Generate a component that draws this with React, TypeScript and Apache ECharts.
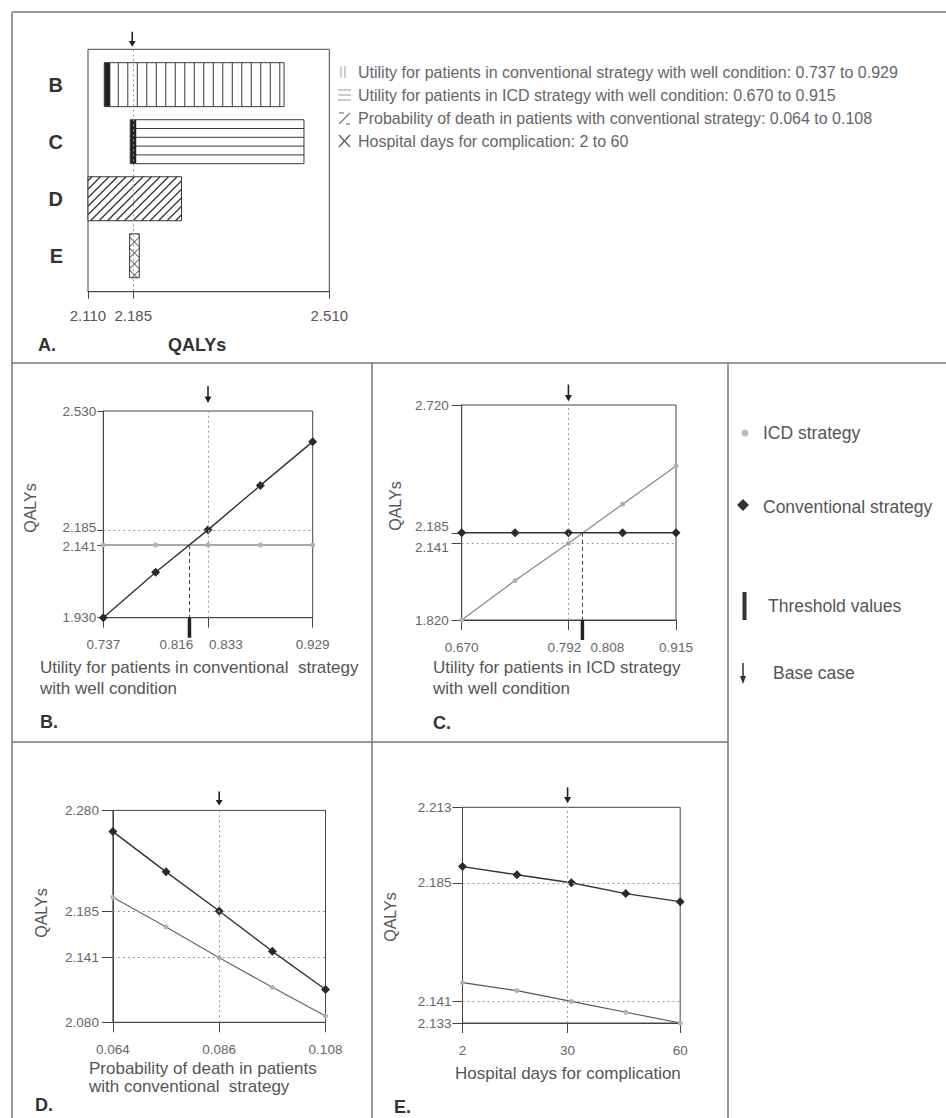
import React, { useEffect, useRef } from "react";
import * as echarts from "echarts";

const FONT = "'Liberation Sans', Arial, Helvetica, sans-serif";

// ---------- Panel A : one-way sensitivity (tornado) ----------
const tornadoCategories = ["B", "C", "D", "E"];
const tornadoLow = [2.137, 2.18, 2.11, 2.179];
const tornadoHigh = [2.435, 2.468, 2.265, 2.195];
const tornadoPattern = ["vertical", "horizontal", "diagonal", "cross"];
const tornadoThresholdEdge = [true, true, false, false];
const tornadoTicks = [2.11, 2.185, 2.51];
const tornadoBase = 2.185;
const tornadoLegend = [
  "Utility for patients in conventional strategy with well condition: 0.737 to 0.929",
  "Utility for patients in ICD strategy with well condition: 0.670 to 0.915",
  "Probability of death in patients with conventional strategy: 0.064 to 0.108",
  "Hospital days for complication: 2 to 60",
];

// ---------- Panel B ----------
const bUtility = [0.737, 0.785, 0.833, 0.881, 0.929];
const bConventional = [1.93, 2.062, 2.185, 2.314, 2.441];
const bICD = [2.141, 2.141, 2.141, 2.141, 2.141];
const bXTicks = [0.737, 0.816, 0.833, 0.929];
const bYTicks = [1.93, 2.141, 2.185, 2.53];
const bBase = 0.833;
const bThreshold = 0.816;
const bThresholdQaly = 2.141;
const bRefLines = [2.185];

// ---------- Panel C ----------
const cUtility = [0.67, 0.731, 0.792, 0.854, 0.915];
const cConventional = [2.185, 2.185, 2.185, 2.185, 2.185];
const cICD = [1.82, 1.985, 2.141, 2.305, 2.465];
const cXTicks = [0.67, 0.792, 0.808, 0.915];
const cYTicks = [1.82, 2.141, 2.185, 2.72];
const cBase = 0.792;
const cThreshold = 0.808;
const cThresholdQaly = 2.185;
const cRefLines = [2.141];

// ---------- Panel D ----------
const dProbability = [0.064, 0.075, 0.086, 0.097, 0.108];
const dConventional = [2.26, 2.222, 2.185, 2.147, 2.111];
const dICD = [2.198, 2.17, 2.141, 2.113, 2.086];
const dXTicks = [0.064, 0.086, 0.108];
const dYTicks = [2.08, 2.141, 2.185, 2.28];
const dBase = 0.086;
const dRefLines = [2.185, 2.141];

// ---------- Panel E ----------
const eDays = [2, 16.5, 31, 45.5, 60];
const eConventional = [2.191, 2.188, 2.185, 2.181, 2.178];
const eICD = [2.148, 2.145, 2.141, 2.137, 2.133];
const eXTicks = [2, 30, 60];
const eYTicks = [2.133, 2.141, 2.185, 2.213];
const eBase = 30;
const eRefLines = [2.185, 2.141];

const ARROW = "path://M3.1,0 L4.9,0 L4.9,11 L8,11 L4,18 L0,11 L3.1,11 Z";

type PanelCfg = {
  grid: any;
  x: number[];
  conv: number[];
  icd: number[];
  xTicks: number[];
  yTicks: number[];
  xDigits: number;
  base: number;
  refs: number[];
  thr?: number;
  thrFrom?: number;
  yTickLen: number;
  yMargin: number;
  xShift: Record<string, number>;
  yShift: Record<string, number>;
  arrowSize: number[];
  arrowOff: number;
  icdLine: string;
};

const panels: PanelCfg[] = [
  {
    grid: { left: 103.3, top: 411, width: 209.4, height: 206.7 },
    x: bUtility, conv: bConventional, icd: bICD, xTicks: bXTicks, yTicks: bYTicks, xDigits: 3,
    base: bBase, refs: bRefLines, thr: bThreshold, thrFrom: bThresholdQaly,
    yTickLen: 6, yMargin: 7, xShift: { "0.816": -13, "0.833": 18 }, yShift: { "2.185": -2, "2.141": 1 },
    arrowSize: [7, 17], arrowOff: -16.5, icdLine: "#555",
  },
  {
    grid: { left: 461.7, top: 405, width: 214.3, height: 215 },
    x: cUtility, conv: cConventional, icd: cICD, xTicks: cXTicks, yTicks: cYTicks, xDigits: 3,
    base: cBase, refs: cRefLines, thr: cThreshold, thrFrom: cThresholdQaly,
    yTickLen: 10, yMargin: 13, xShift: { "0.792": -4, "0.808": 25 }, yShift: { "2.185": -6, "2.141": 4 },
    arrowSize: [7, 17], arrowOff: -12, icdLine: "#888",
  },
  {
    grid: { left: 112.9, top: 810.4, width: 212.6, height: 211.9 },
    x: dProbability, conv: dConventional, icd: dICD, xTicks: dXTicks, yTicks: dYTicks, xDigits: 3,
    base: dBase, refs: dRefLines,
    yTickLen: 11, yMargin: 14, xShift: {}, yShift: {},
    arrowSize: [7, 14], arrowOff: -12, icdLine: "#666",
  },
  {
    grid: { left: 462.5, top: 807.3, width: 217.7, height: 215.7 },
    x: eDays, conv: eConventional, icd: eICD, xTicks: eXTicks, yTicks: eYTicks, xDigits: 0,
    base: eBase, refs: eRefLines,
    yTickLen: 10, yMargin: 11, xShift: {}, yShift: {},
    arrowSize: [7, 16], arrowOff: -12, icdLine: "#555",
  },
];

const DOTTED = { color: "#999", type: [2, 3] as any, width: 1 };
const DASHED = { color: "#444", type: [4, 3] as any, width: 1 };

function diagSeg(x0: number, y0: number, x1: number, y1: number, c: number, dir: number) {
  if (dir === 1) {
    const xa = Math.max(x0, c - y1);
    const xb = Math.min(x1, c - y0);
    if (xa >= xb) return null;
    return { x1: xa, y1: c - xa, x2: xb, y2: c - xb };
  }
  const xa = Math.max(x0, y0 - c);
  const xb = Math.min(x1, y1 - c);
  if (xa >= xb) return null;
  return { x1: xa, y1: xa + c, x2: xb, y2: xb + c };
}

function shiftedLabels(shift: Record<string, number>, horizontal: boolean) {
  const rich: any = {};
  const keyOf: Record<string, string> = {};
  Object.keys(shift).forEach((key, j) => {
    const s = shift[key];
    const name = "s" + j;
    keyOf[key] = name;
    let padding;
    if (horizontal) padding = s > 0 ? [0, 0, 0, 2 * s] : [0, -2 * s, 0, 0];
    else padding = s > 0 ? [2 * s, 0, 0, 0] : [0, 0, -2 * s, 0];
    rich[name] = { fontSize: 13.5, color: "#666", fontFamily: FONT, padding };
  });
  return { rich, keyOf };
}

function buildOption() {
  const grids: any[] = [
    { left: 88, top: 49.3, width: 241.3, height: 242.4, show: true, borderColor: "#444", borderWidth: 1 },
  ];
  const xAxes: any[] = [
    {
      type: "value", gridIndex: 0, min: 2.11, max: 2.51,
      axisLine: { show: true, onZero: false, lineStyle: { color: "#444" } },
      axisTick: { show: true, customValues: tornadoTicks, length: 7, lineStyle: { color: "#444" } },
      axisLabel: { customValues: tornadoTicks, formatter: (v: number) => v.toFixed(3), margin: 16, color: "#555", fontSize: 15, fontFamily: FONT },
      splitLine: { show: false },
    },
  ];
  const yAxes: any[] = [
    {
      type: "value", gridIndex: 0, min: -0.62, max: 3.63, inverse: true,
      axisLine: { show: false, onZero: false }, axisTick: { show: false }, splitLine: { show: false },
      axisLabel: {
        customValues: [0, 1, 2, 3],
        formatter: (v: number) => tornadoCategories[Math.round(v)],
        margin: 25, color: "#333", fontSize: 20, fontWeight: "bold", fontFamily: FONT, padding: [8, 0, 0, 0],
      },
    },
  ];
  const series: any[] = [
    {
      type: "custom", xAxisIndex: 0, yAxisIndex: 0, silent: true,
      data: tornadoCategories.map((_, i) => [i, tornadoLow[i], tornadoHigh[i]]),
      encode: { x: [1, 2], y: 0 },
      renderItem: (params: any, api: any) => {
        const i = params.dataIndex;
        const idx = api.value(0);
        const a = api.coord([api.value(1), idx]);
        const b = api.coord([api.value(2), idx]);
        const h = api.size([0, 0.771])[1];
        const x0 = a[0], x1 = b[0], y0 = a[1] - h / 2, y1 = a[1] + h / 2;
        const ls = { stroke: "#3a3a3a", lineWidth: 1 };
        const ch: any[] = [{ type: "rect", shape: { x: x0, y: y0, width: x1 - x0, height: h }, style: { fill: "#fff" } }];
        const pat = tornadoPattern[i];
        if (pat === "vertical") {
          for (let x = x0 + 14; x < x1 - 3; x += 9.5) ch.push({ type: "line", shape: { x1: x, y1: y0, x2: x, y2: y1 }, style: ls });
        } else if (pat === "horizontal") {
          for (let k = 1; k < 5; k++) {
            const y = y0 + (h * k) / 5;
            ch.push({ type: "line", shape: { x1: x0, y1: y, x2: x1, y2: y }, style: ls });
          }
        } else if (pat === "diagonal") {
          for (let c = x0 + y0 + 4; c < x1 + y1; c += 8.5) {
            const s = diagSeg(x0, y0, x1, y1, c, 1);
            if (s) ch.push({ type: "line", shape: s, style: { stroke: "#333", lineWidth: 1.2 } });
          }
        } else {
          for (let c = x0 + y0 + 2; c < x1 + y1; c += 11) {
            const s = diagSeg(x0, y0, x1, y1, c, 1);
            if (s) ch.push({ type: "line", shape: s, style: ls });
          }
          for (let c = y0 - x1 + 2; c < y1 - x0; c += 11) {
            const s = diagSeg(x0, y0, x1, y1, c, -1);
            if (s) ch.push({ type: "line", shape: s, style: ls });
          }
        }
        if (tornadoThresholdEdge[i]) ch.push({ type: "rect", shape: { x: x0, y: y0, width: 6, height: h }, style: { fill: "#222" } });
        ch.push({ type: "rect", shape: { x: x0, y: y0, width: x1 - x0, height: h }, style: { fill: "none", stroke: "#3a3a3a", lineWidth: 1 } });
        return { type: "group", children: ch };
      },
    },
    {
      type: "scatter", xAxisIndex: 0, yAxisIndex: 0, data: [], silent: true,
      markLine: {
        silent: true, symbol: ["none", "none"], label: { show: false }, precision: 4,
        data: [{ xAxis: tornadoBase, lineStyle: DOTTED }],
      },
      markPoint: {
        silent: true, label: { show: false },
        data: [{ coord: [tornadoBase, -0.62], symbol: ARROW, symbolSize: [7, 15], symbolOffset: [-1, -10], itemStyle: { color: "#222" } }],
      },
    },
  ];

  panels.forEach((p, k) => {
    const gi = k + 1;
    grids.push({ ...p.grid, show: true, borderColor: "#444", borderWidth: 1 });
    const xMin = p.xTicks[0], xMax = p.xTicks[p.xTicks.length - 1];
    const yMin = p.yTicks[0], yMax = p.yTicks[p.yTicks.length - 1];
    const xs = shiftedLabels(p.xShift, true);
    const ys = shiftedLabels(p.yShift, false);
    xAxes.push({
      type: "value", gridIndex: gi, min: xMin, max: xMax,
      axisLine: { show: true, onZero: false, lineStyle: { color: "#444" } },
      axisTick: { show: true, customValues: p.xTicks, length: 10, lineStyle: { color: "#444" } },
      axisLabel: {
        customValues: p.xTicks, margin: 20, color: "#666", fontSize: 13.5, fontFamily: FONT, rich: xs.rich,
        formatter: (v: number) => {
          const t = v.toFixed(p.xDigits);
          return xs.keyOf[t] ? `{${xs.keyOf[t]}|${t}}` : t;
        },
      },
      splitLine: { show: false },
    });
    yAxes.push({
      type: "value", gridIndex: gi, min: yMin, max: yMax,
      axisLine: { show: true, onZero: false, lineStyle: { color: "#444" } },
      axisTick: { show: true, customValues: p.yTicks, length: p.yTickLen, lineStyle: { color: "#444" } },
      axisLabel: {
        customValues: p.yTicks, margin: p.yMargin, color: "#666", fontSize: 13.5, fontFamily: FONT, rich: ys.rich,
        formatter: (v: number) => {
          const t = v.toFixed(3);
          return ys.keyOf[t] ? `{${ys.keyOf[t]}|${t}}` : t;
        },
      },
      splitLine: { show: false },
    });
    const mlData: any[] = p.refs.map((v) => ({ yAxis: v, lineStyle: DOTTED }));
    mlData.push({ xAxis: p.base, lineStyle: DOTTED });
    const mpData: any[] = [
      { coord: [p.base, yMax], symbol: ARROW, symbolSize: p.arrowSize, symbolOffset: [0, p.arrowOff], itemStyle: { color: "#222" } },
    ];
    if (p.thr !== undefined) {
      mlData.push([{ coord: [p.thr, p.thrFrom], lineStyle: DASHED }, { coord: [p.thr, yMin] }]);
      mpData.push({ coord: [p.thr, yMin], symbol: "rect", symbolSize: [3.5, 20], symbolOffset: [0, 10], itemStyle: { color: "#222" } });
    }
    series.push({
      type: "line", name: "ICD strategy", xAxisIndex: gi, yAxisIndex: gi, z: 3,
      data: p.x.map((x, i) => [x, p.icd[i]]),
      symbol: "circle", symbolSize: 5,
      itemStyle: { color: "#b0b0b0", borderWidth: 0 },
      lineStyle: { color: p.icdLine, width: 1.2 },
    });
    series.push({
      type: "line", name: "Conventional strategy", xAxisIndex: gi, yAxisIndex: gi, z: 4,
      data: p.x.map((x, i) => [x, p.conv[i]]),
      symbol: "diamond", symbolSize: 9,
      itemStyle: { color: "#2a2a2a", borderWidth: 0 },
      lineStyle: { color: "#333", width: 1.4 },
      markLine: { silent: true, symbol: ["none", "none"], label: { show: false }, precision: 4, data: mlData },
      markPoint: { silent: true, label: { show: false }, data: mpData },
    });
  });

  const line = (x1: number, y1: number, x2: number, y2: number, stroke = "#777", w = 1.5) => ({
    type: "line", silent: true, shape: { x1, y1, x2, y2 }, style: { stroke, lineWidth: w },
  });
  const text = (x: number, y: number, t: string, o: any = {}) => ({
    type: "text", silent: true, x, y, rotation: o.rot || 0,
    style: {
      text: t, fill: o.color || "#555", fontSize: o.size || 14, fontFamily: FONT,
      fontWeight: o.weight || "normal", align: o.align || "left", verticalAlign: "middle",
    },
  });

  const legendY = [72, 95, 118, 141];
  const graphic: any[] = [
    line(12, 12, 946, 12),
    line(12, 12, 12, 1118),
    line(12, 363, 946, 363),
    line(372, 363, 372, 1118),
    line(728, 363, 728, 1118),
    line(12, 742, 728, 742),
    text(38, 345, "A.", { size: 18, weight: "bold", color: "#333" }),
    text(168, 345, "QALYs", { size: 18, weight: "bold", color: "#333" }),
    text(40, 722, "B.", { size: 18, weight: "bold", color: "#333" }),
    text(433, 723, "C.", { size: 18, weight: "bold", color: "#333" }),
    text(35, 1105, "D.", { size: 18, weight: "bold", color: "#333" }),
    text(394, 1107, "E.", { size: 18, weight: "bold", color: "#333" }),
    text(30, 508, "QALYs", { size: 16, rot: Math.PI / 2, align: "center" }),
    text(395, 506, "QALYs", { size: 16, rot: Math.PI / 2, align: "center" }),
    text(41, 913, "QALYs", { size: 16, rot: Math.PI / 2, align: "center" }),
    text(390, 917, "QALYs", { size: 16, rot: Math.PI / 2, align: "center" }),
    text(40, 667, "Utility for patients in conventional  strategy", { size: 17 }),
    text(40, 688, "with well condition", { size: 17 }),
    text(433, 667, "Utility for patients in ICD strategy", { size: 17 }),
    text(433, 688, "with well condition", { size: 17 }),
    text(89, 1068, "Probability of death in patients", { size: 17 }),
    text(89, 1086, "with conventional  strategy", { size: 17 }),
    text(455, 1073, "Hospital days for complication", { size: 17 }),
    // Panel A legend
    ...tornadoLegend.map((t, i) => text(358, legendY[i], t, { size: 16, color: "#666" })),
    line(341, legendY[0] - 6, 341, legendY[0] + 6, "#999", 1),
    line(345, legendY[0] - 6, 345, legendY[0] + 6, "#999", 1),
    line(338, legendY[1] - 5, 351, legendY[1] - 5, "#999", 1),
    line(338, legendY[1], 351, legendY[1], "#999", 1),
    line(338, legendY[1] + 5, 351, legendY[1] + 5, "#999", 1),
    line(339, legendY[2] - 5, 344, legendY[2] - 5, "#777", 1.2),
    line(339, legendY[2] + 6, 350, legendY[2] - 5, "#777", 1.2),
    line(346, legendY[2] + 6, 350, legendY[2] + 6, "#777", 1.2),
    line(339, legendY[3] - 6, 350, legendY[3] + 6, "#555", 1.2),
    line(350, legendY[3] - 6, 339, legendY[3] + 6, "#555", 1.2),
    // Right legend
    { type: "circle", silent: true, shape: { cx: 745, cy: 433, r: 3.5 }, style: { fill: "#bbb" } },
    text(763, 433, "ICD strategy", { size: 17.5 }),
    { type: "polygon", silent: true, shape: { points: [[743, 499], [749, 505], [743, 511], [737, 505]] }, style: { fill: "#333" } },
    text(763, 507, "Conventional strategy", { size: 17.5 }),
    { type: "rect", silent: true, shape: { x: 742.5, y: 592, width: 4, height: 28 }, style: { fill: "#333" } },
    text(768, 606, "Threshold values", { size: 17.5 }),
    line(743, 663, 743, 678, "#333", 1.5),
    { type: "polygon", silent: true, shape: { points: [[740, 676], [746, 676], [743, 684]] }, style: { fill: "#333" } },
    text(773, 673, "Base case", { size: 17.5 }),
  ];

  return {
    animation: false,
    backgroundColor: "#ffffff",
    textStyle: { fontFamily: FONT },
    grid: grids,
    xAxis: xAxes,
    yAxis: yAxes,
    series,
    graphic,
  };
}

export default function App() {
  const ref = useRef<HTMLDivElement>(null);
  useEffect(() => {
    if (!ref.current) return;
    const chart = echarts.init(ref.current, undefined, { renderer: "svg" });
    chart.setOption(buildOption() as any);
    return () => chart.dispose();
  }, []);
  return <div ref={ref} style={{ position: "absolute", left: 0, top: 0, width: 946, height: 1118 }} />;
}
